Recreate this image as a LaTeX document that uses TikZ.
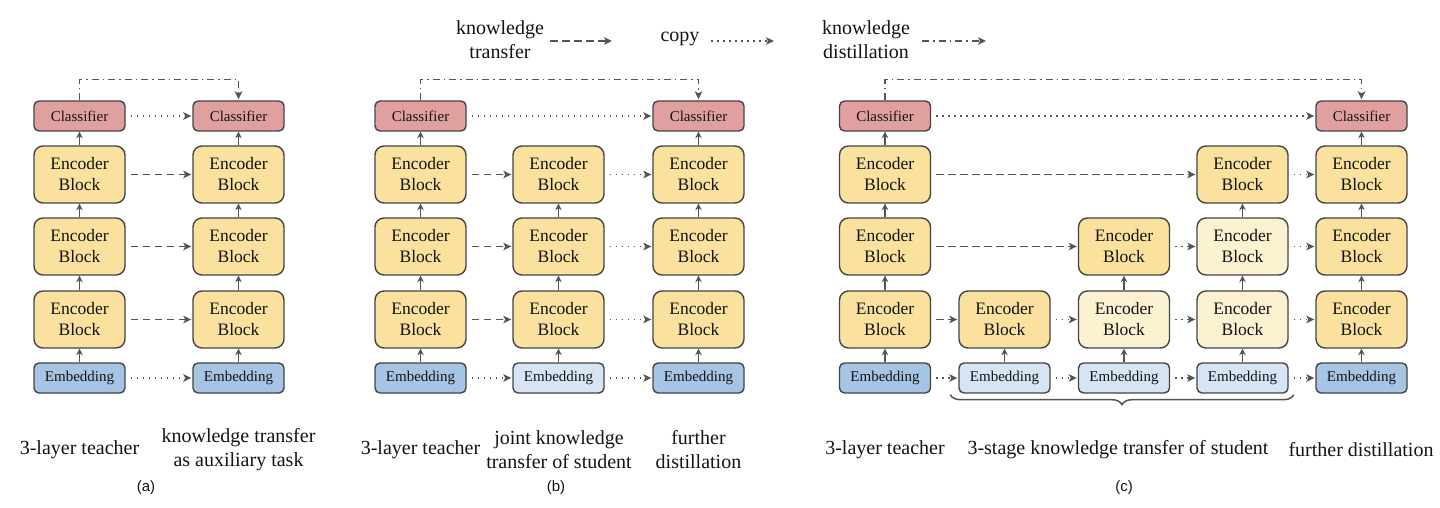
\documentclass[tikz,border=0pt]{standalone}
\usepackage{fontspec}
\setmainfont{Liberation Serif}
\setsansfont{Liberation Sans}
\usetikzlibrary{arrows.meta,decorations.pathreplacing,calc}
\definecolor{clsred}{RGB}{224,160,160}
\definecolor{encY}{RGB}{250,226,158}
\definecolor{encL}{RGB}{252,242,210}
\definecolor{embB}{RGB}{166,196,228}
\definecolor{embL}{RGB}{214,228,243}
\definecolor{bord}{RGB}{68,68,68}
\definecolor{arr}{RGB}{85,85,85}
\definecolor{txt}{RGB}{20,20,20}
\tikzset{
  box/.style={draw=bord, line width=1.4pt, minimum width=91pt, inner sep=0pt, align=center, text=txt},
  cls/.style={box, fill=clsred, minimum height=30pt, rounded corners=5pt, font=\rmfamily\fontsize{15}{18}\selectfont},
  enc/.style={box, fill=encY, minimum height=57pt, rounded corners=9pt, font=\rmfamily\fontsize{17.5}{21}\selectfont},
  encl/.style={enc, fill=encL},
  emb/.style={box, fill=embB, minimum height=30pt, rounded corners=5pt, font=\rmfamily\fontsize{15}{18}\selectfont},
  embl/.style={emb, fill=embL},
  upar/.style={draw=arr, line width=1.4pt, -{Stealth[length=6.5pt,width=6.5pt]}},
  tipp/.style={-{Stealth[length=8pt,width=7.5pt,inset=2pt]}},
  kt/.style={draw=arr, line width=1.8pt, dash pattern=on 7.5pt off 4.5pt, tipp, shorten <=5pt, shorten >=1pt},
  cp/.style={draw=arr, line width=1.5pt, dash pattern=on 1.5pt off 4.5pt, tipp, shorten <=5pt, shorten >=1pt},
  kd/.style={draw=arr, line width=1.5pt, dash pattern=on 7pt off 4pt on 1.5pt off 4pt, tipp, shorten >=1pt},
  lbl/.style={font=\rmfamily\fontsize{20}{24}\selectfont, align=center, text=txt, inner sep=0pt},
  captxt/.style={font=\sffamily\fontsize{15}{18}\selectfont, text=txt, inner sep=0pt},
  legtext/.style={font=\rmfamily\fontsize{20}{24}\selectfont, align=center, text=txt, inner sep=0pt}
}
\begin{document}
\begin{tikzpicture}[x=1pt, y=-1pt]
\useasboundingbox[fill=white] (0,0) rectangle (1440,508);

% full columns
\foreach \n/\x in {a1/79.5, a2/238.5, b1/420.5, b3/698.5, c1/885, c5/1361.5}{
  \node[cls] (\n-c) at (\x,116) {Classifier};
  \node[enc] (\n-e3) at (\x,174.5) {Encoder\\Block};
  \node[enc] (\n-e2) at (\x,246.5) {Encoder\\Block};
  \node[enc] (\n-e1) at (\x,319.5) {Encoder\\Block};
  \node[emb] (\n-m) at (\x,378) {Embedding};
  \draw[upar] (\n-m) -- (\n-e1);
  \draw[upar] (\n-e1) -- (\n-e2);
  \draw[upar] (\n-e2) -- (\n-e3);
  \draw[upar] (\n-e3) -- (\n-c);
}
% b2
\node[enc] (b2-e3) at (558.5,174.5) {Encoder\\Block};
\node[enc] (b2-e2) at (558.5,246.5) {Encoder\\Block};
\node[enc] (b2-e1) at (558.5,319.5) {Encoder\\Block};
\node[embl] (b2-m) at (558.5,378) {Embedding};
\draw[upar] (b2-m) -- (b2-e1);
\draw[upar] (b2-e1) -- (b2-e2);
\draw[upar] (b2-e2) -- (b2-e3);
% c2
\node[enc] (c2-e1) at (1004.5,319.5) {Encoder\\Block};
\node[embl] (c2-m) at (1004.5,378) {Embedding};
\draw[upar] (c2-m) -- (c2-e1);
% c3
\node[enc] (c3-e2) at (1124,246.5) {Encoder\\Block};
\node[encl] (c3-e1) at (1124,319.5) {Encoder\\Block};
\node[embl] (c3-m) at (1124,378) {Embedding};
\draw[upar] (c3-m) -- (c3-e1);
\draw[upar] (c3-e1) -- (c3-e2);
% c4
\node[enc] (c4-e3) at (1242.5,174.5) {Encoder\\Block};
\node[encl] (c4-e2) at (1242.5,246.5) {Encoder\\Block};
\node[encl] (c4-e1) at (1242.5,319.5) {Encoder\\Block};
\node[embl] (c4-m) at (1242.5,378) {Embedding};
\draw[upar] (c4-m) -- (c4-e1);
\draw[upar] (c4-e1) -- (c4-e2);
\draw[upar] (c4-e2) -- (c4-e3);

% ---- part (a) connectors
\draw[cp] (a1-c) -- (a2-c);
\draw[kt] (a1-e3) -- (a2-e3);
\draw[kt] (a1-e2) -- (a2-e2);
\draw[kt] (a1-e1) -- (a2-e1);
\draw[cp] (a1-m) -- (a2-m);
\draw[kd] (a1-c.north) -- ++(0,-21) -| (a2-c.north);

% ---- part (b) connectors
\draw[cp] (b1-c) -- (b3-c);
\foreach \r in {e3,e2,e1}{
  \draw[kt] (b1-\r) -- (b2-\r);
  \draw[cp] (b2-\r) -- (b3-\r);
}
\draw[cp] (b1-m) -- (b2-m);
\draw[cp] (b2-m) -- (b3-m);
\draw[kd] (b1-c.north) -- ++(0,-21) -| (b3-c.north);

% ---- part (c) connectors
\draw[cp] (c1-c) -- (c5-c);
\draw[kd] (c1-c.north) -- ++(0,-21) -| (c5-c.north);
\draw[kt] (c1-e3) -- (c4-e3);
\draw[cp] (c4-e3) -- (c5-e3);
\draw[kt] (c1-e2) -- (c3-e2);
\draw[cp] (c3-e2) -- (c4-e2);
\draw[cp] (c4-e2) -- (c5-e2);
\draw[kt] (c1-e1) -- (c2-e1);
\draw[cp] (c2-e1) -- (c3-e1);
\draw[cp] (c3-e1) -- (c4-e1);
\draw[cp] (c4-e1) -- (c5-e1);
\draw[cp] (c1-m) -- (c2-m);
\draw[cp] (c2-m) -- (c3-m);
\draw[cp] (c3-m) -- (c4-m);
\draw[cp] (c4-m) -- (c5-m);

% brace
\coordinate (brL) at ($(c2-m.south west)+(-8,1)$);
\coordinate (brR) at ($(c4-m.south east)+(5,1)$);
\draw[draw=arr, line width=1.5pt, decorate, decoration={brace, amplitude=10pt, mirror}] (brL) -- (brR);

% ---- legend
\node[legtext] (lg1) at (500,40) {knowledge\\transfer};
\coordinate (lg1a) at (550,41);
\coordinate (lg1b) at (613,41);
\draw[kt, shorten <=0pt] (lg1a) -- (lg1b);
\node[legtext] (lg2) at (680,39) {copy};
\coordinate (lg2a) at (711,41);
\coordinate (lg2b) at (775,41);
\draw[cp, shorten <=0pt] (lg2a) -- (lg2b);
\node[legtext] (lg3) at (866,40) {knowledge\\distillation};
\coordinate (lg3a) at (922,41);
\coordinate (lg3b) at (987,41);
\draw[kd] (lg3a) -- (lg3b);

% ---- bottom labels
\node[lbl] (la1) at (79.5,450) {3-layer teacher};
\node[lbl] (la2) at (238.5,450) {knowledge transfer\\as auxiliary task};
\node[captxt] (capa) at (146,488) {(a)};
\node[lbl] (lb1) at (420.5,450) {3-layer teacher};
\node[lbl] (lb2) at (559,450) {joint knowledge\\transfer of student};
\node[lbl] (lb3) at (698.5,450) {further\\distillation};
\node[captxt] (capb) at (556,488) {(b)};
\node[lbl] (lc1) at (885,450) {3-layer teacher};
\node[lbl] (lc2) at (1118,450) {3-stage knowledge transfer of student};
\node[lbl] (lc3) at (1361,450) {further distillation};
\node[captxt] (capc) at (1124,488) {(c)};
\end{tikzpicture}
\end{document}
